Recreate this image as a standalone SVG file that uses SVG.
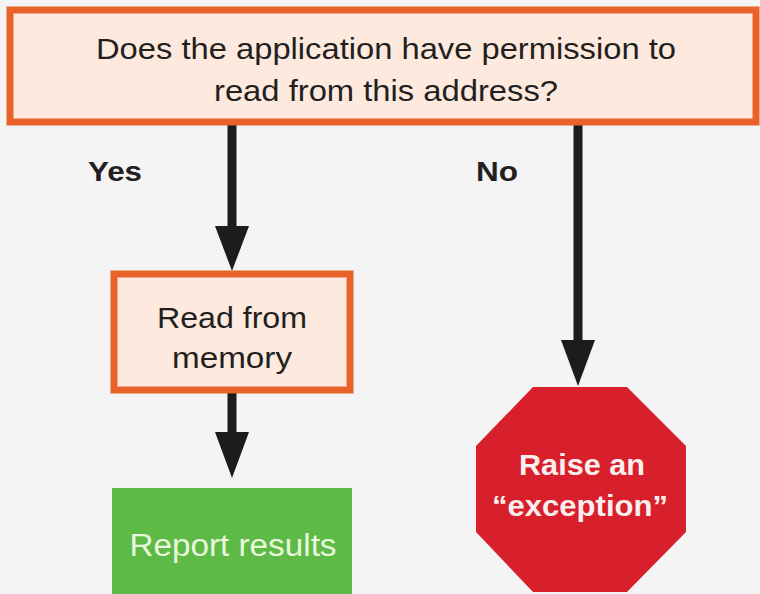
<svg xmlns="http://www.w3.org/2000/svg" width="760" height="594" viewBox="0 0 760 594">
<style>
.box{fill:#fde9dd;stroke:#e8622a;stroke-width:7}
.t{font-family:"Liberation Sans",Arial,sans-serif;fill:#231f20;text-anchor:middle}
.lbl{font-family:"Liberation Sans",Arial,sans-serif;font-weight:bold;fill:#231f20;font-size:27px}
.conn{stroke:#1c1c1c;stroke-width:9;fill:none}
.head{fill:#1c1c1c}
</style>
<rect width="760" height="594" fill="#f4f4f4"/>
<g id="connectors">
<line class="conn" x1="232" y1="124" x2="232" y2="230"/>
<polygon class="head" points="215,226 249,226 232,271"/>
<line class="conn" x1="578" y1="124" x2="578" y2="345"/>
<polygon class="head" points="561,340 595,340 578,386"/>
<line class="conn" x1="232" y1="392" x2="232" y2="436"/>
<polygon class="head" points="215,432 249,432 232,478"/>
<text class="lbl" x="88" y="181" textLength="54" lengthAdjust="spacingAndGlyphs">Yes</text>
<text class="lbl" x="476" y="181" textLength="42" lengthAdjust="spacingAndGlyphs">No</text>
</g>
<g id="question">
<rect class="box" x="10" y="10" width="746" height="112"/>
<text class="t" x="386" y="59" font-size="30" textLength="580" lengthAdjust="spacingAndGlyphs">Does the application have permission to</text>
<text class="t" x="386" y="101" font-size="30" textLength="344" lengthAdjust="spacingAndGlyphs">read from this address?</text>
</g>
<g id="read">
<rect class="box" x="114" y="274" width="236" height="116"/>
<text class="t" x="232" y="328" font-size="30" textLength="150" lengthAdjust="spacingAndGlyphs">Read from</text>
<text class="t" x="232" y="368" font-size="30" textLength="120" lengthAdjust="spacingAndGlyphs">memory</text>
</g>
<g id="report">
<rect x="112" y="488" width="240" height="110" fill="#5dba47"/>
<text class="t" x="233" y="556" font-size="31" style="fill:#e9f8dc" textLength="207" lengthAdjust="spacingAndGlyphs">Report results</text>
</g>
<g id="exception">
<polygon points="533,387 627,387 686,446 686,532 627,592 533,592 476,532 476,446" fill="#d7202b"/>
<text class="t" x="582" y="475" font-size="29" font-weight="bold" style="fill:#fbeeee" textLength="126" lengthAdjust="spacingAndGlyphs">Raise an</text>
<text class="t" x="580" y="516" font-size="29" font-weight="bold" style="fill:#fbeeee" textLength="176" lengthAdjust="spacingAndGlyphs">“exception”</text>
</g>
</svg>
